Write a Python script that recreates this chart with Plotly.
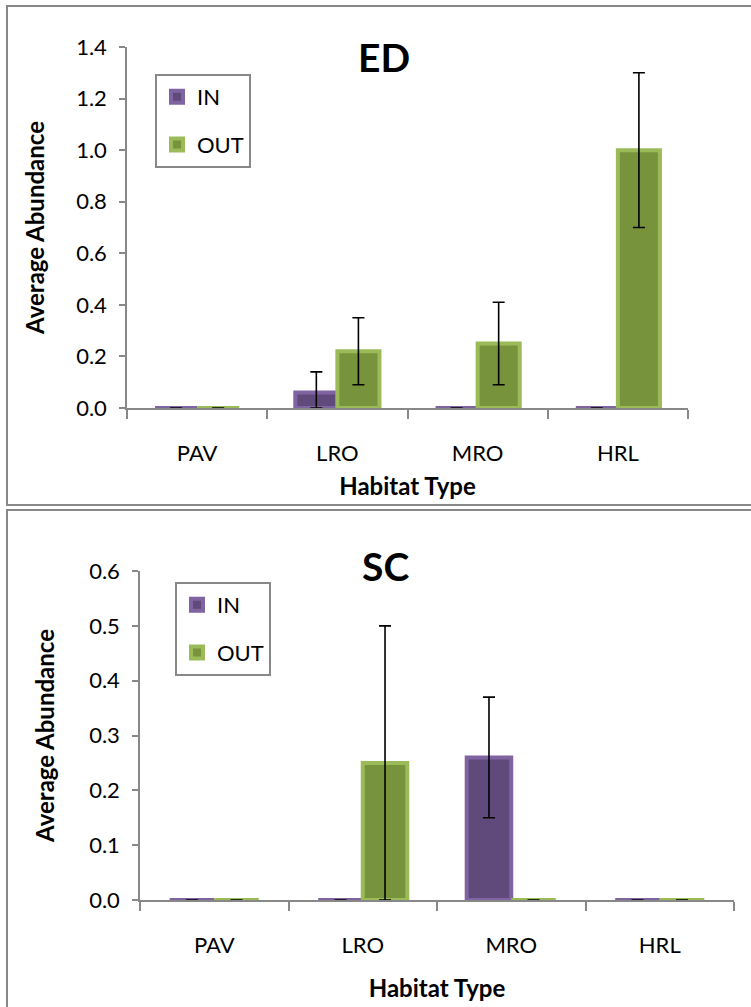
import plotly.graph_objects as go

habitats = ["PAV", "LRO", "MRO", "HRL"]

# Panel ED
ed_in = [0, 0.06, 0, 0]
ed_in_err_up = [None, 0.08, None, None]
ed_in_err_dn = [None, 0.06, None, None]
ed_out = [0, 0.22, 0.25, 1.0]
ed_out_err = [0, 0.13, 0.16, 0.30]

# Panel SC
sc_in = [0, 0, 0.26, 0]
sc_in_err = [None, None, 0.11, None]
sc_out = [0, 0.25, 0, 0]
sc_out_err = [None, 0.25, None, None]

W, H = 751, 1007
FONT = "Lato, Carlito, Arial, sans-serif"
IN_FILL, IN_LINE = "#604A7B", "#8064A2"
OUT_FILL, OUT_LINE = "#77933C", "#9BBB59"
GRID = "#888888"


def px_x(x):
    return x / W


def px_y(y):
    return 1 - y / H


err_style = dict(type="data", color="black", thickness=1.6, width=6, visible=True)

fig = go.Figure()
fig.add_trace(go.Bar(x=habitats, y=ed_in, name="IN", xaxis="x", yaxis="y",
                     marker=dict(color=IN_FILL, line=dict(color=IN_LINE, width=4)),
                     error_y=dict(array=ed_in_err_up, arrayminus=ed_in_err_dn, symmetric=False, **err_style),
                     legend="legend", legendgroup="in"))
fig.add_trace(go.Bar(x=habitats, y=ed_out, name="OUT", xaxis="x", yaxis="y",
                     marker=dict(color=OUT_FILL, line=dict(color=OUT_LINE, width=4)),
                     error_y=dict(array=ed_out_err, **err_style),
                     legend="legend", legendgroup="out"))
fig.add_trace(go.Bar(x=habitats, y=sc_in, name="IN", xaxis="x2", yaxis="y2",
                     marker=dict(color=IN_FILL, line=dict(color=IN_LINE, width=4)),
                     error_y=dict(array=sc_in_err, **err_style),
                     legend="legend2", legendgroup="in2"))
fig.add_trace(go.Bar(x=habitats, y=sc_out, name="OUT", xaxis="x2", yaxis="y2",
                     marker=dict(color=OUT_FILL, line=dict(color=OUT_LINE, width=4)),
                     error_y=dict(array=sc_out_err, **err_style),
                     legend="legend2", legendgroup="out2"))

tickfont = dict(family=FONT, size=22, color="black")
titlefont = dict(family=FONT, size=24, color="black", weight="bold")
legfont = dict(family=FONT, size=22, color="black")

xaxis_common = dict(type="category", showline=True, linecolor=GRID, linewidth=2,
                    ticks="outside", ticklen=9, tickcolor=GRID, tickwidth=2,
                    tickson="boundaries", tickfont=tickfont, showgrid=False,
                    ticklabelstandoff=25, automargin=False, fixedrange=True)
yaxis_common = dict(showline=True, linecolor=GRID, linewidth=1.5,
                    ticks="outside", ticklen=6, tickcolor=GRID, tickwidth=1.5,
                    tickfont=tickfont, showgrid=False, zeroline=False,
                    ticklabelstandoff=8, tickformat=".1f", automargin=False,
                    fixedrange=True)

fig.update_layout(
    width=W, height=H,
    margin=dict(l=0, r=0, t=0, b=0, pad=0, autoexpand=False),
    paper_bgcolor="white", plot_bgcolor="white",
    barmode="group", bargap=0.4, bargroupgap=0,
    showlegend=True,
    xaxis=dict(domain=[px_x(127), px_x(688)], anchor="y",
               title=dict(text="Habitat Type", font=titlefont, standoff=13), **xaxis_common),
    yaxis=dict(domain=[px_y(408), px_y(47)], anchor="x", range=[0, 1.4], dtick=0.2,
               title=dict(text="Average Abundance", font=titlefont, standoff=25), **yaxis_common),
    xaxis2=dict(domain=[px_x(140), px_x(734)], anchor="y2",
                title=dict(text="Habitat Type", font=titlefont, standoff=23), **xaxis_common),
    yaxis2=dict(domain=[px_y(900), px_y(571)], anchor="x2", range=[0, 0.6], dtick=0.1,
                title=dict(text="Average Abundance", font=titlefont, standoff=28), **yaxis_common),
    legend=dict(x=px_x(155), y=px_y(74), xanchor="left", yanchor="top",
                bordercolor=GRID, borderwidth=2, bgcolor="white", font=legfont,
                tracegroupgap=16, traceorder="grouped"),
    legend2=dict(x=px_x(175), y=px_y(582), xanchor="left", yanchor="top",
                 bordercolor=GRID, borderwidth=2, bgcolor="white", font=legfont,
                 tracegroupgap=16, traceorder="grouped"),
    annotations=[
        dict(text="<b>ED</b>", x=px_x(384), y=px_y(57), xref="paper", yref="paper",
             xanchor="center", yanchor="middle",
             showarrow=False, font=dict(family=FONT, size=39, color="black")),
        dict(text="<b>SC</b>", x=px_x(385), y=px_y(566), xref="paper", yref="paper",
             xanchor="center", yanchor="middle",
             showarrow=False, font=dict(family=FONT, size=39, color="black")),
    ],
    shapes=[
        dict(type="rect", xref="paper", yref="paper",
             x0=px_x(7), x1=1.05, y0=px_y(505), y1=px_y(6),
             line=dict(color=GRID, width=2), fillcolor="rgba(0,0,0,0)", layer="below"),
        dict(type="rect", xref="paper", yref="paper",
             x0=px_x(7), x1=1.05, y0=-0.05, y1=px_y(510),
             line=dict(color=GRID, width=2), fillcolor="rgba(0,0,0,0)", layer="below"),
    ],
)

fig.write_html(
    "out.html",
    config={"displayModeBar": False},
    post_script="document.documentElement.style.margin='0';document.body.style.margin='0';"
                "document.body.style.overflow='hidden';document.documentElement.style.overflow='hidden';",
)
